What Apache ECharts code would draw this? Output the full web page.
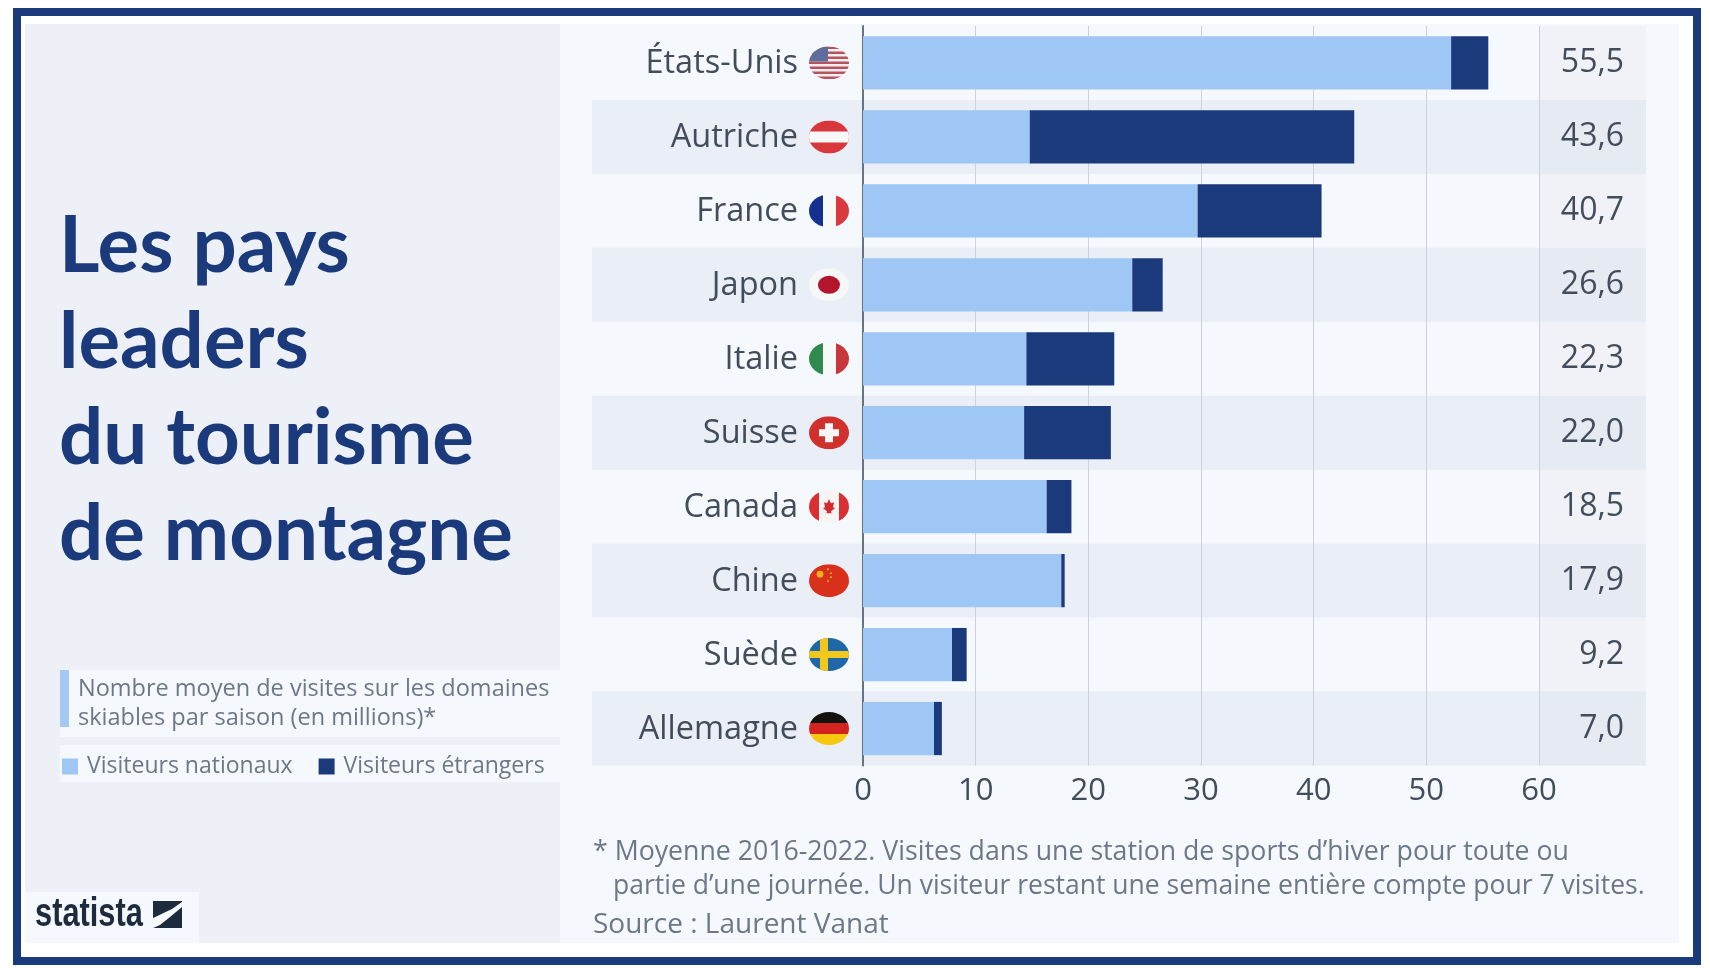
<!DOCTYPE html>
<html>
<head>
<meta charset="utf-8">
<title>Les pays leaders du tourisme de montagne</title>
<script src="https://cdn.jsdelivr.net/npm/echarts@6/dist/echarts.min.js"></script>
<style>
  html, body { margin: 0; padding: 0; background: #fff; }
  #chart { width: 1710px; height: 978px; }
</style>
</head>
<body>
<div id="chart"></div>
<script>
const categories = ["États-Unis", "Autriche", "France", "Japon", "Italie", "Suisse", "Canada", "Chine", "Suède", "Allemagne"];
const nationaux = [52.2, 14.8, 29.7, 23.9, 14.5, 14.3, 16.3, 17.6, 7.9, 6.3];
const etrangers = [3.3, 28.8, 11.0, 2.7, 7.8, 7.7, 2.2, 0.3, 1.3, 0.7];
const totaux = ["55,5", "43,6", "40,7", "26,6", "22,3", "22,0", "18,5", "17,9", "9,2", "7,0"];

const NAVY = "#1a3a7c";
const LIGHT = "#9fc7f5";
const GREY_TEXT = "#6d7788";
const DARK_TEXT = "#434c5a";
const FONT_NAME = "Open Sans";
const FONT = '"Open Sans", sans-serif';

// drapeaux : petits SVG ronds, un par pays
function flag(inner) {
  const svg = '<svg xmlns="http://www.w3.org/2000/svg" width="40" height="33" viewBox="0 0 40 33">' +
    '<defs><clipPath id="c"><ellipse cx="20" cy="16.5" rx="20" ry="16.5"/></clipPath></defs>' +
    '<g clip-path="url(#c)">' + inner + "</g></svg>";
  return "data:image/svg+xml;charset=utf-8," + encodeURIComponent(svg);
}
const r = (x, y, w, h, c) => `<rect x="${x}" y="${y}" width="${w}" height="${h}" fill="${c}"/>`;
let usStripes = "";
for (let i = 0; i < 7; i++) usStripes += r(0, i * 5, 40, 2.5, "#b5535f");
const flags = [
  flag(r(0, 0, 40, 33, "#f4eef0") + usStripes + r(0, 0, 19, 15, "#5d6e9c")),
  flag(r(0, 0, 40, 33, "#d8383c") + r(0, 11, 40, 11, "#f8f8f8")),
  flag(r(0, 0, 14, 33, "#15318f") + r(14, 0, 13, 33, "#f8f8f8") + r(27, 0, 13, 33, "#d9393f")),
  flag(r(0, 0, 40, 33, "#f6f8f8") + '<ellipse cx="20" cy="16.5" rx="11" ry="9" fill="#b3152d"/>'),
  flag(r(0, 0, 14, 33, "#2f8b4d") + r(14, 0, 13, 33, "#f8f8f8") + r(27, 0, 13, 33, "#c7373c")),
  flag(r(0, 0, 40, 33, "#d0312d") + r(16, 7, 8, 19, "#f8f6f4") + r(10, 13, 20, 7, "#f8f6f4")),
  flag(r(0, 0, 10, 33, "#dc2f32") + r(10, 0, 20, 33, "#f8f4f4") + r(30, 0, 10, 33, "#dc2f32") +
    '<path d="M20 9l2 4 3-1-1 5 2 1-4 3 .5 2h-5l.5-2-4-3 2-1-1-5 3 1z" fill="#d42b2e"/>'),
  flag(r(0, 0, 40, 33, "#d9301c") + '<circle cx="11" cy="10" r="3.4" fill="#f0b020"/><circle cx="19" cy="5" r="1" fill="#f0b020"/><circle cx="22" cy="9" r="1" fill="#f0b020"/><circle cx="22" cy="13" r="1" fill="#f0b020"/><circle cx="19" cy="17" r="1" fill="#f0b020"/>'),
  flag(r(0, 0, 40, 33, "#1f68a8") + r(11, 0, 8, 33, "#f2c81e") + r(0, 13, 40, 7, "#f2c81e")),
  flag(r(0, 0, 40, 11, "#14120f") + r(0, 11, 40, 11, "#d3231f") + r(0, 22, 40, 11, "#f6c80f"))
];

const labelRich = { name: { fontFamily: FONT_NAME, fontSize: 32.5, color: DARK_TEXT, padding: [2, 11, 0, 0] } };
flags.forEach((src, i) => {
  labelRich["f" + i] = { width: 40, height: 33, backgroundColor: { image: src } };
});

const chart = echarts.init(document.getElementById("chart"), null, { renderer: "canvas" });

const gridTop = 26;
const gridHeight = 739.5;

const option = {
  animation: false,
  backgroundColor: "#ffffff",
  title: {
    text: "Les pays\nleaders\ndu tourisme\nde montagne",
    left: 54,
    top: 194,
    textStyle: { fontFamily: "Lato", fontWeight: "bold", fontSize: 78, lineHeight: 96, color: NAVY }
  },
  legend: {
    left: 62,
    top: 755,
    padding: 0,
    itemWidth: 16,
    itemHeight: 16,
    itemGap: 26,
    icon: "rect",
    data: ["Visiteurs nationaux", "Visiteurs étrangers"],
    textStyle: { fontFamily: FONT_NAME, fontSize: 23, color: GREY_TEXT, padding: [0, 0, 0, 4] }
  },
  // grilles : 0 = bandes, 1 = colonne des totaux, 2 = barres
  grid: [
    { left: 592, width: 1054, top: gridTop, height: gridHeight },
    { left: 1539, width: 107, top: gridTop, height: gridHeight },
    { left: 863, width: 676, top: gridTop, height: gridHeight }
  ],
  xAxis: [
    { gridIndex: 0, type: "value", show: false, min: 0, max: 1, splitLine: { show: false } },
    { gridIndex: 1, type: "value", show: false, min: 0, max: 1, splitLine: { show: false } },
    {
      gridIndex: 2, type: "value", min: 0, max: 60, interval: 10, z: 2,
      axisLine: { show: false },
      axisTick: { show: false },
      axisLabel: { margin: 10, fontFamily: FONT_NAME, fontSize: 31, color: DARK_TEXT },
      splitLine: { show: true, lineStyle: { color: "#cdd2da", width: 1 } }
    }
  ],
  yAxis: [
    {
      gridIndex: 0, type: "category", inverse: true, data: categories, z: 0,
      axisLine: { show: false }, axisTick: { show: false }, axisLabel: { show: false },
      splitLine: { show: false },
      splitArea: { show: true, interval: 0, areaStyle: { color: ["rgba(0,0,0,0)", "#eaeef6"] } }
    },
    {
      gridIndex: 1, type: "category", inverse: true, data: totaux, position: "right", z: 1,
      axisLine: { show: false }, axisTick: { show: false },
      axisLabel: { inside: true, interval: 0, margin: 22, padding: [3, 0, 0, 0], fontFamily: FONT_NAME, fontSize: 32, color: DARK_TEXT },
      splitLine: { show: false },
      splitArea: { show: true, interval: 0, areaStyle: { color: ["#f0f2f8", "#e5eaf3"] } }
    },
    {
      gridIndex: 2, type: "category", inverse: true, data: categories, z: 3,
      axisLine: { show: true, lineStyle: { color: "#6b7380", width: 2 } },
      axisTick: { show: false },
      splitLine: { show: false },
      axisLabel: {
        interval: 0,
        margin: 14,
        rich: labelRich,
        formatter: (value, i) => `{name|${value}}{f${i}|}`
      }
    }
  ],
  series: [
    {
      name: "Visiteurs nationaux", type: "bar", stack: "total", xAxisIndex: 2, yAxisIndex: 2,
      barCategoryGap: "28%", z: 5, itemStyle: { color: LIGHT }, data: nationaux
    },
    {
      name: "Visiteurs étrangers", type: "bar", stack: "total", xAxisIndex: 2, yAxisIndex: 2,
      barCategoryGap: "28%", z: 5, itemStyle: { color: NAVY }, data: etrangers
    }
  ],
  graphic: [
    // cadre et panneaux de fond
    { type: "rect", z: -10, shape: { x: 17, y: 12, width: 1680, height: 949 }, style: { fill: "#ffffff", stroke: NAVY, lineWidth: 8 } },
    { type: "rect", z: -9, shape: { x: 25, y: 24, width: 535, height: 919 }, style: { fill: "#edf0f6" } },
    { type: "rect", z: -9, shape: { x: 560, y: 24, width: 1119, height: 919 }, style: { fill: "#f5f8fc" } },
    // bloc description
    { type: "rect", z: -8, shape: { x: 60, y: 670, width: 500, height: 67 }, style: { fill: "#f5f8fc" } },
    { type: "rect", z: -7, shape: { x: 60, y: 670, width: 9, height: 57 }, style: { fill: "#a4c9f4" } },
    { type: "rect", z: -8, shape: { x: 60, y: 745, width: 500, height: 37 }, style: { fill: "#f5f8fc" } },
    { type: "text", z: 10, style: { x: 78, y: 689, text: "Nombre moyen de visites sur les domaines", font: "23.5px " + FONT, fill: GREY_TEXT, verticalAlign: "middle" } },
    { type: "text", z: 10, style: { x: 78, y: 718, text: "skiables par saison (en millions)*", font: "23.5px " + FONT, fill: GREY_TEXT, verticalAlign: "middle" } },
    // notes
    { type: "text", z: 10, style: { x: 593, y: 852, text: "* Moyenne 2016-2022. Visites dans une station de sports d’hiver pour toute ou", font: "26.7px " + FONT, fill: GREY_TEXT, verticalAlign: "middle" } },
    { type: "text", z: 10, style: { x: 613, y: 886, text: "partie d’une journée. Un visiteur restant une semaine entière compte pour 7 visites.", font: "26.5px " + FONT, fill: GREY_TEXT, verticalAlign: "middle" } },
    { type: "text", z: 10, style: { x: 593, y: 925, text: "Source : Laurent Vanat", font: "28px " + FONT, fill: GREY_TEXT, verticalAlign: "middle" } },
    // logo statista
    { type: "rect", z: -8, shape: { x: 25, y: 892, width: 174, height: 51 }, style: { fill: "#f5f8fc" } },
    { type: "text", z: 10, x: 35, y: 915, scaleX: 0.77, style: { x: 0, y: 0, text: "statista", font: 'bold 40px "Liberation Sans", sans-serif', fill: "#1d2b3e", verticalAlign: "middle" } },
    { type: "polygon", z: 10, shape: { points: [[153, 901], [182, 901], [182, 928], [153, 928]] }, style: { fill: "#1d2b3e" } },
    { type: "polygon", z: 11, shape: { points: [[153, 918], [172, 909], [182, 902], [182, 907], [170, 917], [160, 925], [153, 928]] }, style: { fill: "#f5f8fc" } }
  ]
};

chart.setOption(option);
</script>
</body>
</html>
